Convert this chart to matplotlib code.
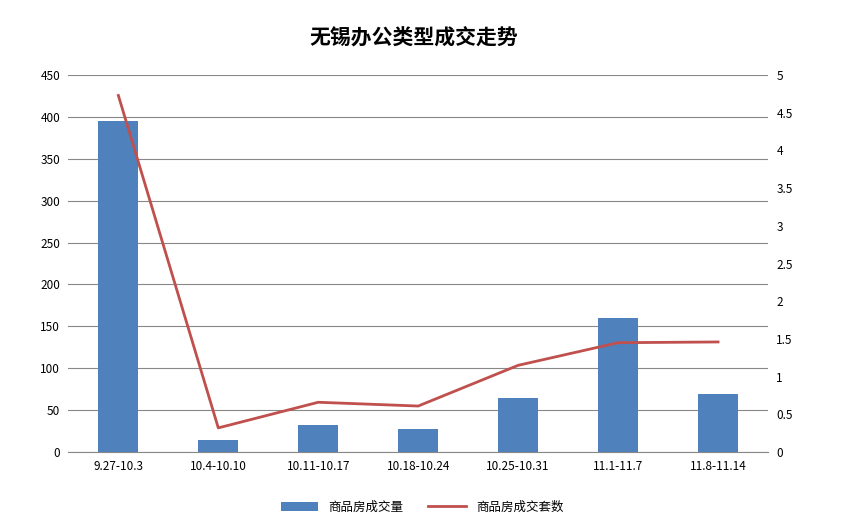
import numpy as np
import matplotlib.pyplot as plt

plt.rcParams['font.family'] = ['Noto Sans CJK SC', 'DejaVu Sans']

periods = ["9.27-10.3", "10.4-10.10", "10.11-10.17", "10.18-10.24", "10.25-10.31", "11.1-11.7", "11.8-11.14"]
volume = [395, 14, 32, 27, 64, 160, 69]
price = [4.73, 0.32, 0.66, 0.61, 1.15, 1.45, 1.46]

fig = plt.figure(figsize=(8.44, 5.25), dpi=100)
ax = fig.add_axes([0.081, 0.139, 0.829, 0.718])
x = np.arange(len(periods))
b = ax.bar(x, volume, width=0.4, color='#4f81bd', label='商品房成交量', zorder=2)
ax.set_ylim(0, 450)
ax.set_yticks(range(0, 451, 50))
ax.set_xlim(-0.5, len(periods) - 0.5)
ax.set_xticks(x)
ax.set_xticklabels(periods)
ax.grid(axis='y', color='#888888', linewidth=0.8, zorder=0)
for s in ['top', 'right', 'left']:
    ax.spines[s].set_visible(False)
ax.spines['bottom'].set_color('#888888')
ax.tick_params(length=0, labelsize=8.5, pad=6)

ax2 = ax.twinx()
l, = ax2.plot(x, price, color='#c0504d', linewidth=2, label='商品房成交套数')
ax2.set_ylim(0, 5)
ax2.set_yticks(np.arange(0, 5.01, 0.5))
ax2.set_yticklabels(['0', '0.5', '1', '1.5', '2', '2.5', '3', '3.5', '4', '4.5', '5'])
for s in ['top', 'right', 'left', 'bottom']:
    ax2.spines[s].set_visible(False)
ax2.tick_params(length=0, labelsize=8.5, pad=6)

fig.text(0.49, 0.915, '无锡办公类型成交走势', ha='center', fontsize=15, fontweight='bold')
fig.legend([b, l], ['商品房成交量', '商品房成交套数'], loc='lower center', ncol=2,
           bbox_to_anchor=(0.5, 0.0), frameon=False, fontsize=9, handlelength=3, columnspacing=2)
fig.savefig('out.png')
